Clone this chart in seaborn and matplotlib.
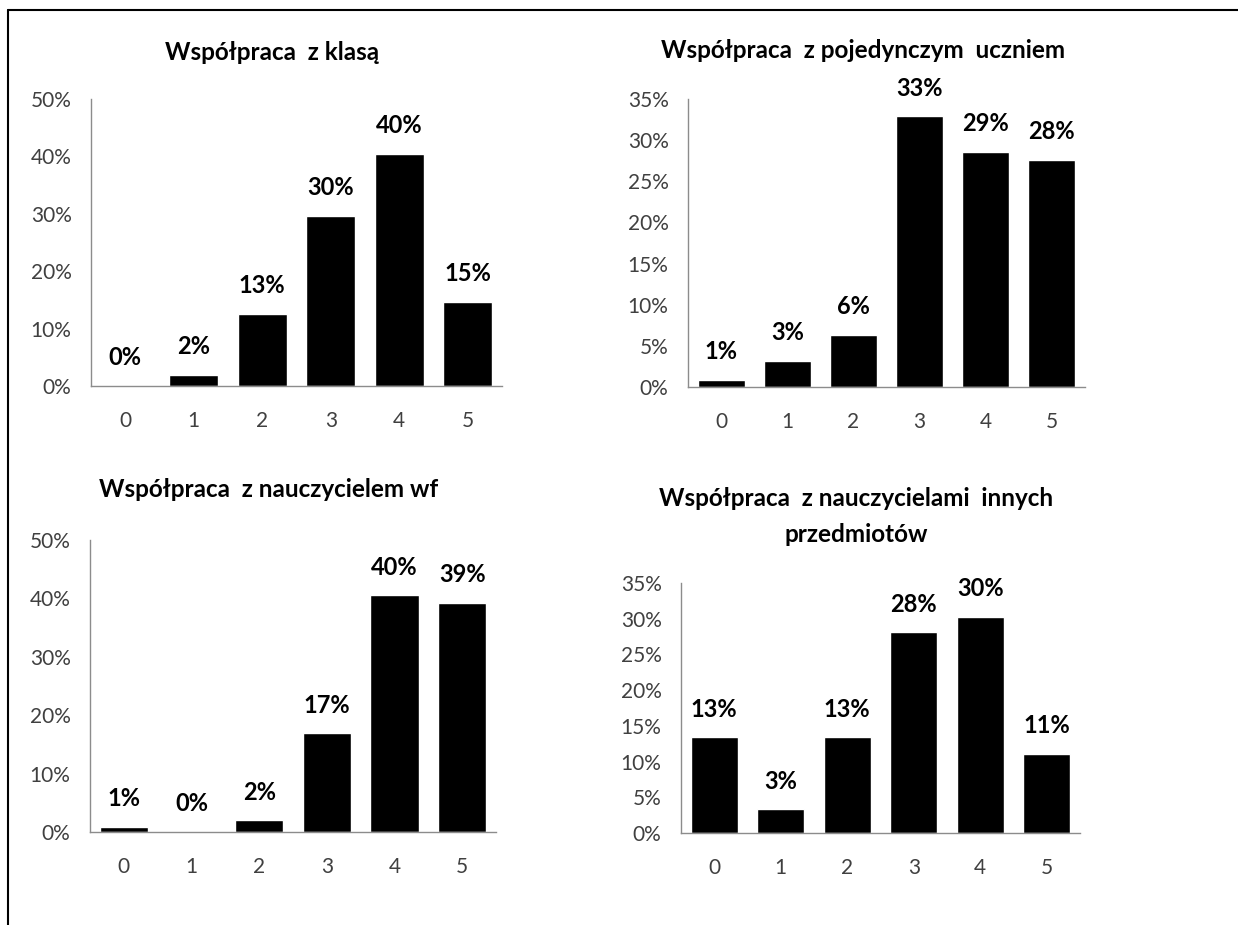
import matplotlib
matplotlib.use("Agg")
import matplotlib.pyplot as plt
import seaborn as sns
from matplotlib.lines import Line2D
from matplotlib.ticker import PercentFormatter, MultipleLocator, FixedLocator

# -------------------------------
# Data (percent of answers, scale 0-5)
# -------------------------------
categories = ["0", "1", "2", "3", "4", "5"]

titles = [
    "Współpraca  z klasą",
    "Współpraca  z pojedynczym  uczniem",
    "Współpraca  z nauczycielem wf",
    "Współpraca  z nauczycielami  innych\nprzedmiotów",
]

klasa = [0.0, 1.9, 12.6, 29.6, 40.4, 14.7]
uczen = [0.9, 3.2, 6.3, 32.9, 28.6, 27.6]
wf = [0.9, 0.0, 2.0, 16.9, 40.5, 39.2]
inni = [13.4, 3.3, 13.4, 28.1, 30.3, 11.1]

y_max = [50, 35, 50, 35]
y_step = [10, 5, 10, 5]

# -------------------------------
# Style
# -------------------------------
sns.set_style("white")
plt.rcParams["font.family"] = ["Lato", "DejaVu Sans"]

W, H = 1238, 925
fig = plt.figure(figsize=(W / 100, H / 100), dpi=100)

# axes boxes in pixels: left, top, right, bottom
boxes = [
    (91, 99, 502, 386),
    (688, 99, 1085, 387),
    (90, 540, 496, 832),
    (681, 583, 1080, 833),
]
title_pad = [28, 29.5, 31, 29.5]

series = [klasa, uczen, wf, inni]
grey = "#8c8c8c"

for i, (vals, box) in enumerate(zip(series, boxes)):
    l, t, r, b = box
    ax = fig.add_axes([l / W, 1 - b / H, (r - l) / W, (b - t) / H])
    sns.barplot(x=categories, y=vals, color="black", saturation=1,
                width=0.71, ax=ax)
    ax.bar_label(ax.containers[0], labels=[f"{v:.0f}%" for v in vals],
                 padding=12, fontsize=17, fontweight="bold", color="black")

    ax.set_xlim(-0.5, 5.5)
    ax.set_ylim(0, y_max[i])
    ax.yaxis.set_major_locator(MultipleLocator(y_step[i]))
    ax.yaxis.set_major_formatter(PercentFormatter(100, decimals=0))

    # excel style: tick marks between categories, labels centered
    ax.xaxis.set_major_locator(FixedLocator([k - 0.5 for k in range(7)]))
    ax.xaxis.set_major_formatter(plt.NullFormatter())
    ax.xaxis.set_minor_locator(FixedLocator(range(6)))
    ax.set_xticklabels(categories, minor=True)
    ax.tick_params(axis="x", which="major", length=6, width=1, color=grey,
                   direction="out")
    ax.tick_params(axis="x", which="minor", length=0, pad=18,
                   labelsize=15, labelcolor="#404040")
    ax.tick_params(axis="y", length=5, width=1, color=grey, direction="out",
                   labelsize=15, labelcolor="#404040", pad=9)

    sns.despine(ax=ax)
    for s in ["left", "bottom"]:
        ax.spines[s].set_color(grey)
        ax.spines[s].set_linewidth(1)

    ax.set_xlabel("")
    ax.set_ylabel("")
    ax.set_title(titles[i], x=0.44, pad=title_pad[i], fontsize=17.5,
                 fontweight="bold", color="black", linespacing=1.7)

# outer frame (top and left only, the rest is cut off)
fig.add_artist(Line2D([8 / W, 1], [1 - 10 / H, 1 - 10 / H], color="black",
                      lw=1.5, transform=fig.transFigure))
fig.add_artist(Line2D([8 / W, 8 / W], [0, 1 - 10 / H], color="black",
                      lw=1.5, transform=fig.transFigure))

fig.savefig("out.png", dpi=100)
